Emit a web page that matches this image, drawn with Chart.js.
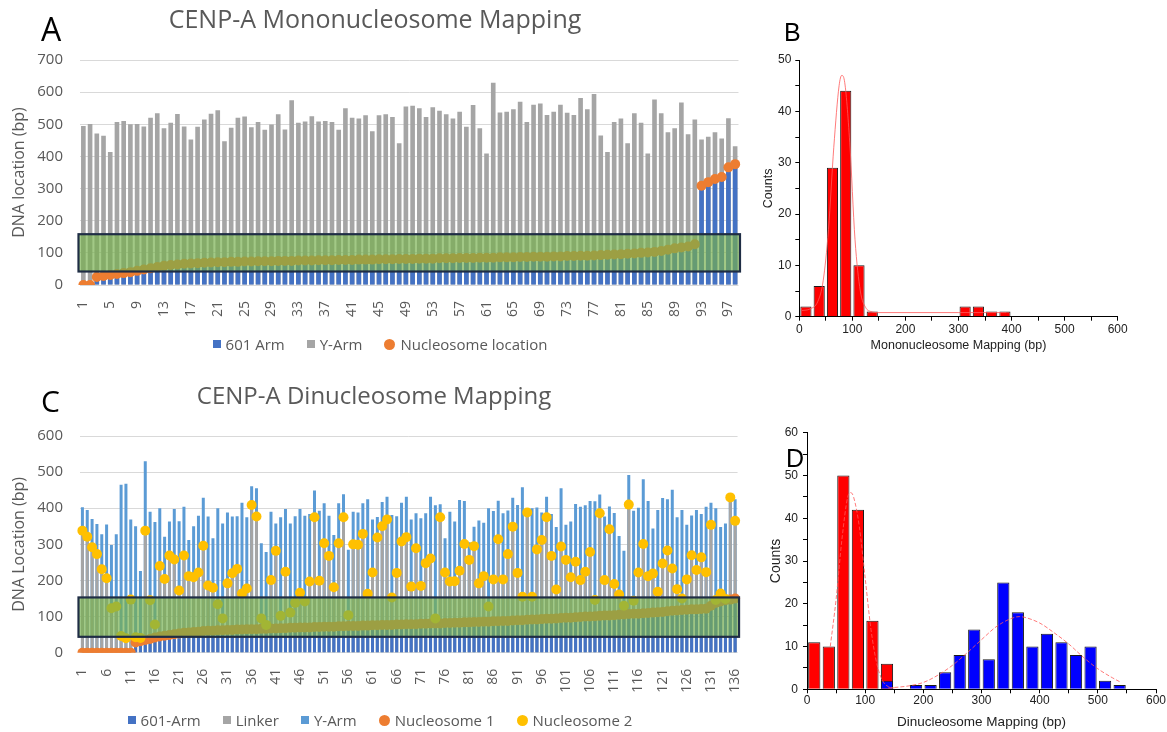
<!DOCTYPE html>
<html>
<head>
<meta charset="utf-8">
<title>CENP-A nucleosome mapping</title>
<script src="https://cdn.jsdelivr.net/npm/chart.js@4.4.1/dist/chart.umd.min.js"></script>
<style>
  body { margin: 0; background: #fff; }
  #page { position: relative; width: 1167px; height: 732px; overflow: hidden; font-family: "Open Sans", sans-serif; }
  canvas { position: absolute; }
  .title { position: absolute; color: #595959; white-space: nowrap; transform: translateX(-50%); line-height: 1; }
  .letter { position: absolute; color: #000; line-height: 1; }
  .legend { position: absolute; left: 0; width: 760px; display: flex; justify-content: center; align-items: center; gap: 22px; color: #595959; font-size: 15px; line-height: 18px; }
  .legend .item { display: flex; align-items: center; }
  .legend i { display: inline-block; width: 8px; height: 8px; margin-right: 5px; }
  .legend i.dot { width: 11px; height: 11px; border-radius: 50%; }
</style>
</head>
<body>
<div id="page">
  <canvas id="chartA" width="760" height="360" style="left:0;top:0"></canvas>
  <canvas id="chartB" width="407" height="320" style="left:760px;top:40px"></canvas>
  <canvas id="chartC" width="760" height="352" style="left:0;top:380px"></canvas>
  <canvas id="chartD" width="407" height="312" style="left:760px;top:420px"></canvas>

  <div class="letter" style="left:41px;top:13px;font-size:32px">A</div>
  <div class="letter" style="left:784px;top:20px;font-size:25px;font-family:'Liberation Sans'">B</div>
  <div class="letter" style="left:41px;top:386px;font-size:30px">C</div>
  <div class="letter" style="left:786px;top:446px;font-size:25px;font-family:'Liberation Sans'">D</div>

  <div class="title" style="left:375px;top:6px;font-size:25px">CENP-A Mononucleosome Mapping</div>
  <div class="title" style="left:374px;top:383px;font-size:24px">CENP-A Dinucleosome Mapping</div>

  <div class="legend" id="legendA" style="top:335px"></div>
  <div class="legend" id="legendC" style="top:711px"></div>
</div>
<script>
// ---------- A: mononucleosome mapping (98 molecules) ----------
// top of the Y-Arm bar, bp
const monoTotal = [
  495, 501, 471, 464, 414, 507, 510, 500, 501, 493,
  520, 534, 488, 505, 532, 493, 453, 492, 515, 533,
  544, 447, 489, 520, 524, 491, 507, 483, 499, 531,
  484, 575, 505, 509, 525, 509, 510, 507, 483, 550,
  520, 518, 528, 478, 528, 531, 523, 441, 555, 558,
  550, 523, 553, 542, 531, 518, 539, 492, 560, 488,
  409, 629, 537, 539, 547, 570, 507, 561, 565, 529,
  539, 561, 536, 529, 582, 547, 594, 465, 414, 507,
  518, 441, 534, 505, 409, 577, 534, 475, 488, 568,
  469, 515, 453, 461, 475, 456, 519, 432
];
// nucleosome location (= end of the 601 arm), bp
const monoNuc = [
  0, 0, 25, 28, 31, 34, 37, 40, 44, 48,
  52, 56, 60, 62, 64, 66, 67, 68, 69, 70,
  71, 71, 72, 72, 73, 73, 74, 74, 74, 75,
  75, 75, 76, 76, 76, 77, 77, 77, 78, 78,
  78, 79, 79, 79, 80, 80, 80, 81, 81, 81,
  82, 82, 82, 83, 83, 83, 84, 84, 84, 85,
  85, 85, 86, 86, 86, 87, 87, 88, 88, 88,
  89, 89, 90, 90, 91, 91, 92, 93, 94, 95,
  96, 97, 98, 100, 101, 103, 106, 110, 114, 117,
  120, 127, 309, 320, 330, 336, 366, 376
];

// ---------- C: dinucleosome mapping (136 molecules) ----------
const diTotal = [
  403, 395, 370, 356, 328, 355, 298, 328, 465, 468,
  369, 350, 226, 530, 390, 362, 400, 321, 363, 398,
  364, 404, 312, 350, 379, 429, 377, 317, 400, 358,
  388, 377, 378, 415, 375, 461, 455, 303, 279, 390,
  358, 375, 398, 358, 378, 398, 379, 384, 449, 393,
  414, 379, 326, 414, 439, 285, 390, 388, 414, 425,
  369, 376, 417, 432, 381, 378, 415, 432, 369, 386,
  372, 386, 432, 408, 411, 317, 390, 363, 423, 420,
  306, 349, 366, 360, 400, 392, 421, 386, 394, 429,
  409, 458, 398, 400, 402, 388, 432, 384, 348, 455,
  354, 363, 412, 404, 408, 420, 419, 438, 377, 405,
  387, 323, 282, 492, 393, 401, 480, 420, 344, 395,
  428, 425, 451, 375, 395, 354, 380, 395, 384, 404,
  415, 400, 348, 358, 433, 425
];
const diNuc1 = [
  0, 0, 0, 0, 0, 0, 0, 0, 0, 0,
  0, 28, 32, 35, 38, 42, 45, 47, 49, 51,
  53, 55, 56, 57, 58, 60, 61, 61, 62, 62,
  63, 63, 64, 64, 65, 65, 65, 66, 66, 67,
  67, 68, 68, 69, 69, 70, 70, 70, 71, 71,
  72, 72, 72, 73, 73, 74, 74, 74, 75, 75,
  76, 76, 77, 77, 77, 78, 78, 79, 79, 79,
  80, 80, 81, 81, 81, 82, 82, 83, 83, 84,
  84, 85, 85, 86, 86, 87, 87, 88, 88, 89,
  90, 90, 91, 92, 92, 93, 94, 94, 95, 96,
  97, 97, 98, 99, 100, 100, 101, 102, 103, 103,
  104, 105, 106, 107, 108, 108, 109, 110, 111, 112,
  113, 115, 116, 117, 118, 119, 120, 120, 121, 122,
  130, 138, 142, 145, 147, 150
];
const diNuc2 = [
  338, 321, 292, 273, 231, 206, 123, 128, 46, 40,
  147, 43, 41, 338, 145, 78, 240, 204, 269, 258,
  172, 269, 212, 209, 222, 296, 186, 180, 134, 95,
  192, 220, 232, 164, 178, 409, 377, 95, 77, 201,
  282, 102, 224, 111, 138, 166, 142, 197, 375, 199,
  303, 268, 181, 303, 375, 104, 300, 299, 329, 163,
  222, 319, 350, 369, 153, 221, 308, 320, 183, 289,
  185, 248, 261, 95, 375, 222, 197, 198, 227, 301,
  257, 295, 192, 212, 128, 203, 314, 203, 273, 349,
  221, 155, 388, 155, 286, 312, 375, 268, 175, 294,
  257, 209, 252, 201, 224, 279, 146, 386, 201, 342,
  190, 161, 130, 410, 144, 222, 301, 212, 219, 169,
  247, 283, 233, 176, 150, 203, 270, 229, 264, 223,
  354, 146, 164, 149, 430, 365
];

// ---------- B: mononucleosome histogram ----------
const monoBinCenters = [12.5, 37.5, 62.5, 87.5, 112.5, 137.5, 162.5, 187.5, 212.5, 237.5, 262.5, 287.5, 312.5, 337.5, 362.5, 387.5];
const monoCounts = [2, 6, 29, 44, 10, 1, 0, 0, 0, 0, 0, 0, 2, 2, 1, 1];
const monoFitX = [5, 20, 35, 45, 55, 65, 75, 80, 85, 95, 105, 115, 125, 135, 150, 300, 390];
const monoFitY = [1.2, 1.5, 3, 7, 17, 33, 45, 47, 46, 34, 15, 5, 1.8, 1, 0.8, 0.8, 0.8];

// ---------- D: dinucleosome histogram ----------
const diBinCenters = [12.5, 37.5, 62.5, 87.5, 112.5, 137.5, 162.5, 187.5, 212.5, 237.5, 262.5, 287.5, 312.5, 337.5, 362.5, 387.5, 412.5, 437.5, 462.5, 487.5, 512.5, 537.5];
const diCounts1 = [11, 10, 50, 42, 16, 6, 0, 0, 0, 0, 0, 0, 0, 0, 0, 0, 0, 0, 0, 0, 0, 0];
const diCounts2 = [0, 0, 0, 0, 0, 2, 0, 1, 1, 4, 8, 14, 7, 25, 18, 10, 13, 11, 8, 10, 2, 1];
const fit1X = [40, 50, 60, 70, 75, 80, 90, 100, 110, 120, 130, 140, 150];
const fit1Y = [10, 21, 35, 45, 46, 45, 38, 26, 14, 6, 2, 0.6, 0.3];
const fit2X = [140, 175, 200, 225, 250, 275, 300, 325, 350, 365, 375, 400, 425, 450, 475, 500, 525, 540];
const fit2Y = [0.3, 0.8, 1.6, 3.3, 5.6, 8.5, 11.6, 14.6, 16.5, 17, 16.8, 15.5, 13.2, 10.6, 7.5, 4.8, 2.7, 1.6];

// highlighted band (bp)
const monoBand = [42, 158];
const diBand = [44, 153];

const GREY_TXT = '#595959';
const xlFont = 'Open Sans';
const orgFont = 'Liberation Sans';

// green translucent box drawn over the bars
const greenBox = {
  id: 'greenBox',
  afterDatasetsDraw(chart, args, opts) {
    const { ctx, chartArea, scales } = chart;
    const top = scales.y.getPixelForValue(opts.high);
    const bottom = scales.y.getPixelForValue(opts.low);
    const left = chartArea.left - opts.ext, w = chartArea.right - chartArea.left + 2 * opts.ext;
    ctx.save();
    ctx.fillStyle = 'rgba(118,176,76,0.68)';
    ctx.fillRect(left, top, w, bottom - top);
    ctx.strokeStyle = '#1f2d45';
    ctx.lineWidth = 2.2;
    ctx.strokeRect(left, top, w, bottom - top);
    ctx.restore();
  }
};

function excelOptions(ymax, band, every, xHeight, padTop, padRight, yTitle, catPct) {
  return {
    responsive: false,
    animation: false,
    layout: { padding: { top: padTop, right: padRight, left: 0, bottom: 0 } },
    datasets: { bar: { grouped: false, categoryPercentage: catPct, barPercentage: 1 } },
    plugins: {
      legend: { display: false },
      tooltip: { enabled: false },
      greenBox: { low: band[0], high: band[1], ext: 1.5 }
    },
    scales: {
      x: {
        grid: { display: false },
        border: { display: false },
        ticks: {
          autoSkip: false, maxRotation: 90, minRotation: 90, padding: 8,
          color: GREY_TXT, font: { family: xlFont, size: 14 },
          callback: function (v, i) { return i % every === 0 ? this.getLabelForValue(v) : ''; }
        },
        afterFit: (s) => { s.height = xHeight; }
      },
      y: {
        min: 0, max: ymax,
        ticks: { stepSize: 100, padding: 17, color: GREY_TXT, font: { family: xlFont, size: 15 } },
        grid: { color: '#d9d9d9', drawTicks: false },
        border: { display: false },
        title: { display: true, text: yTitle, color: GREY_TXT, font: { family: xlFont, size: 16 }, padding: { top: 10, bottom: 0 } },
        afterFit: (s) => { s.width = 80; }
      }
    }
  };
}

const dot = (label, data, color, order) => ({
  type: 'line', label, data, showLine: false, order,
  pointRadius: 5, pointHoverRadius: 5, pointBorderWidth: 0,
  pointBackgroundColor: color, borderColor: color, backgroundColor: color
});

// ---- panel A ----
const monoCats = monoTotal.map((v, i) => String(i + 1));
new Chart(document.getElementById('chartA'), {
  type: 'bar',
  data: {
    labels: monoCats,
    datasets: [
      dot('Nucleosome location', monoNuc, '#ED7D31', 0),
      { label: '601 Arm', data: monoNuc, backgroundColor: '#4472C4', order: 1 },
      { label: 'Y-Arm', data: monoTotal, backgroundColor: '#A5A5A5', order: 2 }
    ]
  },
  options: excelOptions(700, monoBand, 4, 75, 60, 12.3, 'DNA location (bp)', 0.69),
  plugins: [greenBox]
});

// ---- panel C ----
const diCats = diTotal.map((v, i) => String(i + 1));
new Chart(document.getElementById('chartC'), {
  type: 'bar',
  data: {
    labels: diCats,
    datasets: [
      dot('Nucleosome 2', diNuc2, '#FFC000', 0),
      dot('Nucleosome 1', diNuc1, '#ED7D31', 1),
      { label: '601-Arm', data: diNuc1, backgroundColor: '#4472C4', order: 2 },
      { label: 'Linker', data: diNuc2, backgroundColor: '#A5A5A5', order: 3 },
      { label: 'Y-Arm', data: diTotal, backgroundColor: '#5B9BD5', order: 4 }
    ]
  },
  options: excelOptions(600, diBand, 5, 79.3, 56, 18.2, 'DNA Location (bp)', 0.62),
  plugins: [greenBox]
});

// ---- HTML legends for A and C ----
function buildLegend(id, items) {
  const box = document.getElementById(id);
  items.forEach(([text, color, round]) => {
    const it = document.createElement('span');
    it.className = 'item';
    const m = document.createElement('i');
    if (round) m.className = 'dot';
    m.style.background = color;
    it.appendChild(m);
    it.appendChild(document.createTextNode(text));
    box.appendChild(it);
  });
}
buildLegend('legendA', [['601 Arm', '#4472C4'], ['Y-Arm', '#A5A5A5'], ['Nucleosome location', '#ED7D31', true]]);
buildLegend('legendC', [['601-Arm', '#4472C4'], ['Linker', '#A5A5A5'], ['Y-Arm', '#5B9BD5'], ['Nucleosome 1', '#ED7D31', true], ['Nucleosome 2', '#FFC000', true]]);

// ---- Origin style histograms ----
function histOptions(ymax, xTitle, sz, g) {
  const axisCommon = {
    grid: { drawOnChartArea: false, tickLength: 4, color: '#000', offset: false },
    border: { color: '#000', width: 1 }
  };
  return {
    responsive: false,
    animation: false,
    layout: { padding: { top: g.top, right: g.right, left: 0, bottom: 0 } },
    plugins: { legend: { display: false }, tooltip: { enabled: false } },
    scales: {
      x: {
        type: 'linear', min: 0, max: 600, offset: false, ...axisCommon,
        ticks: { stepSize: 50, autoSkip: false, maxRotation: 0, minRotation: 0, padding: g.xPad, color: '#222', font: { family: orgFont, size: 12 },
                 callback: (v) => (v % 100 === 0 ? v : '') },
        title: { display: true, text: xTitle, color: '#222', font: { family: orgFont, size: sz.x }, padding: { top: 0, bottom: g.xTitlePad } },
        afterFit: (s) => { s.height = g.xHeight; }
      },
      y: {
        min: 0, max: ymax, ...axisCommon,
        ticks: { stepSize: 5, autoSkip: false, padding: g.yPad, color: '#222', font: { family: orgFont, size: 12 },
                 callback: (v) => (v % 10 === 0 ? v : '') },
        title: { display: true, text: 'Counts', color: '#222', font: { family: orgFont, size: sz.y }, padding: { top: g.yTitlePad, bottom: 0 } },
        afterFit: (s) => { s.width = g.yWidth; }
      }
    }
  };
}

const pts = (xs, ys) => xs.map((x, i) => ({ x, y: ys[i] }));
const fitLine = (xs, ys, dash) => ({
  type: 'line', data: pts(xs, ys), order: 0,
  borderColor: 'rgba(255,90,90,0.8)', borderWidth: 1, borderDash: dash,
  pointRadius: 0, tension: 0.4, cubicInterpolationMode: 'monotone'
});
const histBars = (xs, ys, color, order) => ({
  data: pts(xs, ys), backgroundColor: color, borderColor: '#1a1a1a', borderWidth: 1,
  barPercentage: 0.84, categoryPercentage: 1, grouped: false, order
});

new Chart(document.getElementById('chartB'), {
  type: 'bar',
  data: {
    datasets: [
      fitLine(monoFitX, monoFitY, []),
      histBars(monoBinCenters, monoCounts, '#FF0000', 1)
    ]
  },
  options: histOptions(50, 'Mononucleosome Mapping (bp)', { x: 12.5, y: 12.5 },
    { top: 20, right: 49.3, xHeight: 43.3, yWidth: 39.3, xPad: 2, yPad: 4, xTitlePad: 6.5, yTitlePad: 1.5 })
});

new Chart(document.getElementById('chartD'), {
  type: 'bar',
  data: {
    datasets: [
      fitLine(fit1X, fit1Y, [4, 2]),
      fitLine(fit2X, fit2Y, [4, 2]),
      histBars(diBinCenters, diCounts2, '#0000FF', 1),
      histBars(diBinCenters, diCounts1, '#FF0000', 2)
    ]
  },
  options: histOptions(60, 'Dinucleosome Mapping (bp)', { x: 13.5, y: 14 },
    { top: 12.7, right: 11, xHeight: 42.7, yWidth: 47, xPad: 0, yPad: 5, xTitlePad: 1.4, yTitlePad: 7.6 })
});
</script>
</body>
</html>
